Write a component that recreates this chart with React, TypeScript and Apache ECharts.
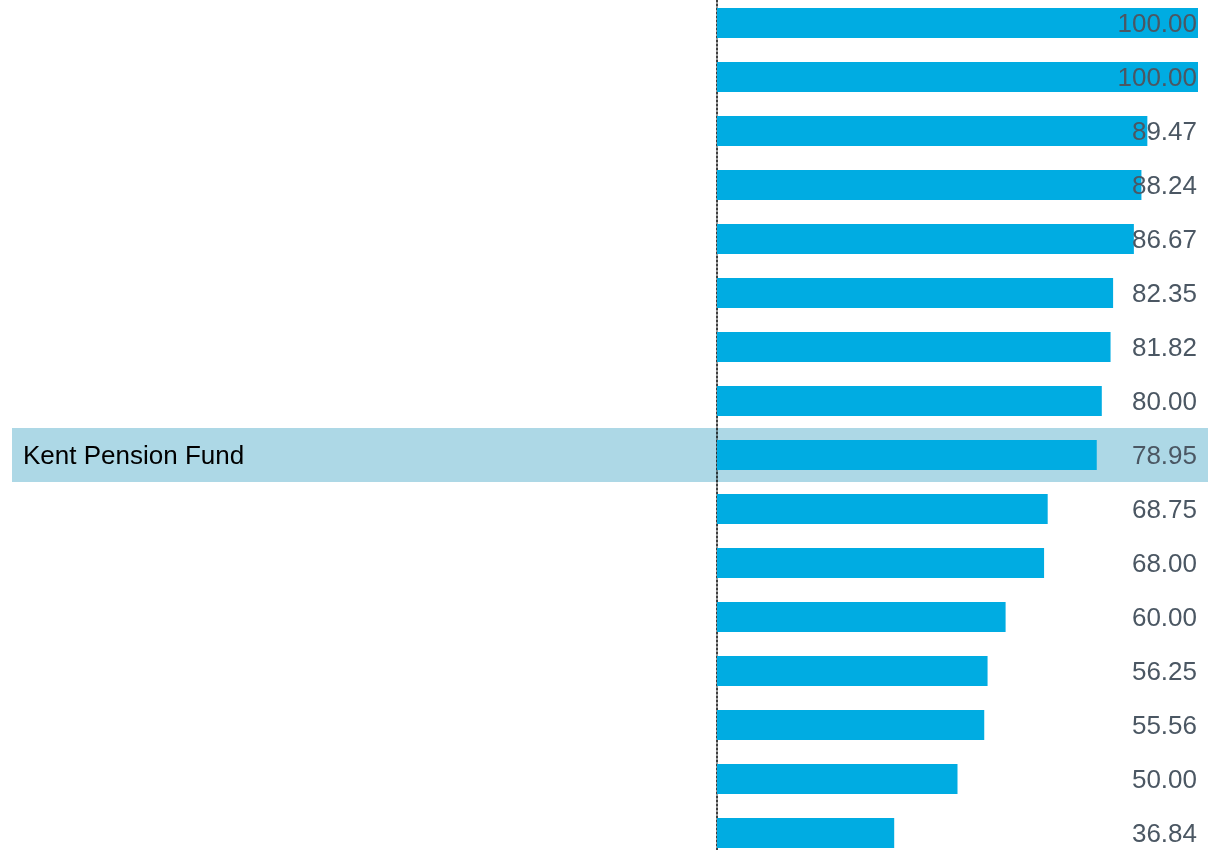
import React, { useEffect, useRef } from "react";
import * as echarts from "echarts";

const categories = [
  "Fund A", "Fund B", "Fund C", "Fund D", "Fund E", "Fund F", "Fund G", "Fund H",
  "Kent Pension Fund",
  "Fund J", "Fund K", "Fund L", "Fund M", "Fund N", "Fund O", "Fund P",
];
const values = [100.0, 100.0, 89.47, 88.24, 86.67, 82.35, 81.82, 80.0, 78.95, 68.75, 68.0, 60.0, 56.25, 55.56, 50.0, 36.84];
const highlighted = "Kent Pension Fund";

const FONT = "'Liberation Sans', Arial, sans-serif";

export default function App() {
  const ref = useRef<HTMLDivElement>(null);
  useEffect(() => {
    if (!ref.current) return;
    const chart = echarts.init(ref.current, undefined, { renderer: "svg" });
    const option: any = {
      animation: false,
      grid: {
        left: 717,
        width: 481,
        top: -4,
        height: 864,
        containLabel: false,
        outerBoundsMode: "none",
      },
      xAxis: { type: "value", min: 0, max: 100, show: false },
      yAxis: [
        {
          type: "category",
          data: categories,
          inverse: true,
          position: "left",
          axisLine: { show: true, lineStyle: { color: "#000", width: 1.5, type: [2, 2] } },
          axisTick: { show: false },
          splitLine: { show: false },
          axisLabel: {
            align: "left",
            margin: 694,
            fontSize: 26,
            fontFamily: FONT,
            color: "#000",
            formatter: (v: string) => (v === highlighted ? v : ""),
          },
        },
        {
          type: "category",
          data: values.map((v) => v.toFixed(2)),
          inverse: true,
          position: "right",
          z: 5,
          axisLine: { show: false },
          axisTick: { show: false },
          splitLine: { show: false },
          axisLabel: {
            align: "right",
            margin: -1,
            fontSize: 26,
            fontFamily: FONT,
            color: "#4b5763",
          },
        },
      ],
      series: [
        {
          type: "bar",
          data: values,
          barWidth: 30,
          itemStyle: { color: "#00ace2" },
          z: 2,
        },
      ],
    };
    chart.setOption(option);
    const cy = chart.convertToPixel({ yAxisIndex: 0 }, highlighted) as number;
    const y1 = chart.convertToPixel({ yAxisIndex: 0 }, categories[1]) as number;
    const y0 = chart.convertToPixel({ yAxisIndex: 0 }, categories[0]) as number;
    const band = Math.abs(y1 - y0);
    chart.setOption({
      graphic: [
        {
          type: "rect",
          z: -1,
          shape: { x: 12, y: cy - band / 2, width: 1196, height: band },
          style: { fill: "#add8e6" },
          silent: true,
        },
      ],
    });
    return () => chart.dispose();
  }, []);
  return (
    <div
      ref={ref}
      style={{ position: "fixed", left: 0, top: 0, width: 1230, height: 850 }}
    />
  );
}
